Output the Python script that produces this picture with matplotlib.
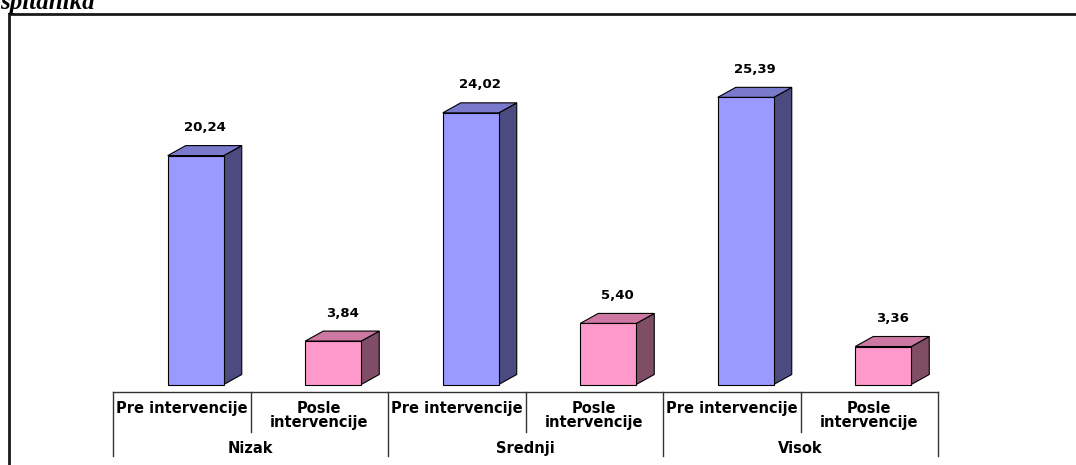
import matplotlib
matplotlib.use("Agg")
import matplotlib.pyplot as plt
from matplotlib.patches import Polygon, Rectangle

# Data
groups = ["Nizak", "Srednji", "Visok"]
phases = ["Pre intervencije", "Posle\nintervencije"]
pre_values = [20.24, 24.02, 25.39]
post_values = [3.84, 5.40, 3.36]

# Colours (front, top, side) for each phase
pre_colors = ("#9999FF", "#7A7ACC", "#4B4B80")
post_colors = ("#FF99CC", "#CC78A3", "#804D66")

W, H, DPI = 1076, 465, 100
fig = plt.figure(figsize=(W / DPI, H / DPI), dpi=DPI)
fig.patch.set_facecolor("white")


def px_box(left, top, right, bottom):
    return [left / W, 1 - bottom / H, (right - left) / W, (bottom - top) / H]


ax = fig.add_axes(px_box(113, 14, 938, 384.5))
ax.set_xlim(-0.5, 5.5)
ax.set_ylim(0, 32.76)
ax.axis("off")

# pixel -> data conversion factors for the 3D depth
ax_w_px = 938 - 113
ax_h_px = 384.5 - 14
ux = 6.0 / ax_w_px
uy = 32.76 / ax_h_px
depth_dx = 18 * ux
depth_dy = 10 * uy
bar_w = 56 * ux
bar_shift = 14 * ux
label_gap = 18 * uy

positions = list(range(6))
values = []
colors = []
for p, q in zip(pre_values, post_values):
    values += [p, q]
    colors += [pre_colors, post_colors]

for x, v, (cf, ct, cs) in zip(positions, values, colors):
    x0 = x + bar_shift - bar_w / 2
    x1 = x + bar_shift + bar_w / 2
    side = Polygon([(x1, 0), (x1 + depth_dx, depth_dy), (x1 + depth_dx, v + depth_dy), (x1, v)],
                   closed=True, facecolor=cs, edgecolor="black", lw=0.8, clip_on=False)
    top = Polygon([(x0, v), (x1, v), (x1 + depth_dx, v + depth_dy), (x0 + depth_dx, v + depth_dy)],
                  closed=True, facecolor=ct, edgecolor="black", lw=0.8, clip_on=False)
    ax.add_patch(side)
    ax.add_patch(top)
    ax.bar(x + bar_shift, v, width=bar_w, color=cf, edgecolor="black", lw=0.8, clip_on=False)
    ax.text(x + bar_shift + depth_dx / 2, v + depth_dy + label_gap,
            f"{v:.2f}".replace(".", ","), ha="center", va="center",
            fontsize=9.5, fontweight="bold", family="DejaVu Sans", color="black")

# Category table under the bars
tax = fig.add_axes(px_box(113, 392, 938, 456))
tax.set_xlim(-0.5, 5.5)
tax.set_ylim(1, 0)
tax.axis("off")
line_kw = dict(color="#333333", lw=1.0, clip_on=False)
tax.plot([-0.5, 5.5], [0, 0], **line_kw)
for g in range(len(groups)):
    xs = -0.5 + 2 * g
    tax.plot([xs, xs], [0, 1], **line_kw)
    tax.plot([xs + 1, xs + 1], [0, 0.625], **line_kw)
tax.plot([5.5, 5.5], [0, 1], **line_kw)

for g, name in enumerate(groups):
    for k, ph in enumerate(phases):
        yc = 0.25 if "\n" not in ph else 0.37
        tax.text(2 * g + k, yc, ph, ha="center", va="center", fontsize=10.5,
                 fontweight="bold", family="DejaVu Sans", linespacing=0.95)
    tax.text(2 * g + 0.5, 0.89, name, ha="center", va="center", fontsize=10.5,
             fontweight="bold", family="DejaVu Sans")

# Outer chart frame
fig.patches.append(Rectangle((9 / W, -0.2), 1.2, 1.2 - 14 / H, transform=fig.transFigure,
                             fill=False, edgecolor="#1a1a1a", lw=2.0, figure=fig))

# Caption line running above the frame
fig.text(0, 1 - 9 / H, "spitanika", ha="left", va="baseline", fontsize=18,
         fontweight="bold", style="italic", family="Liberation Serif")

fig.savefig("out.png", dpi=DPI)
